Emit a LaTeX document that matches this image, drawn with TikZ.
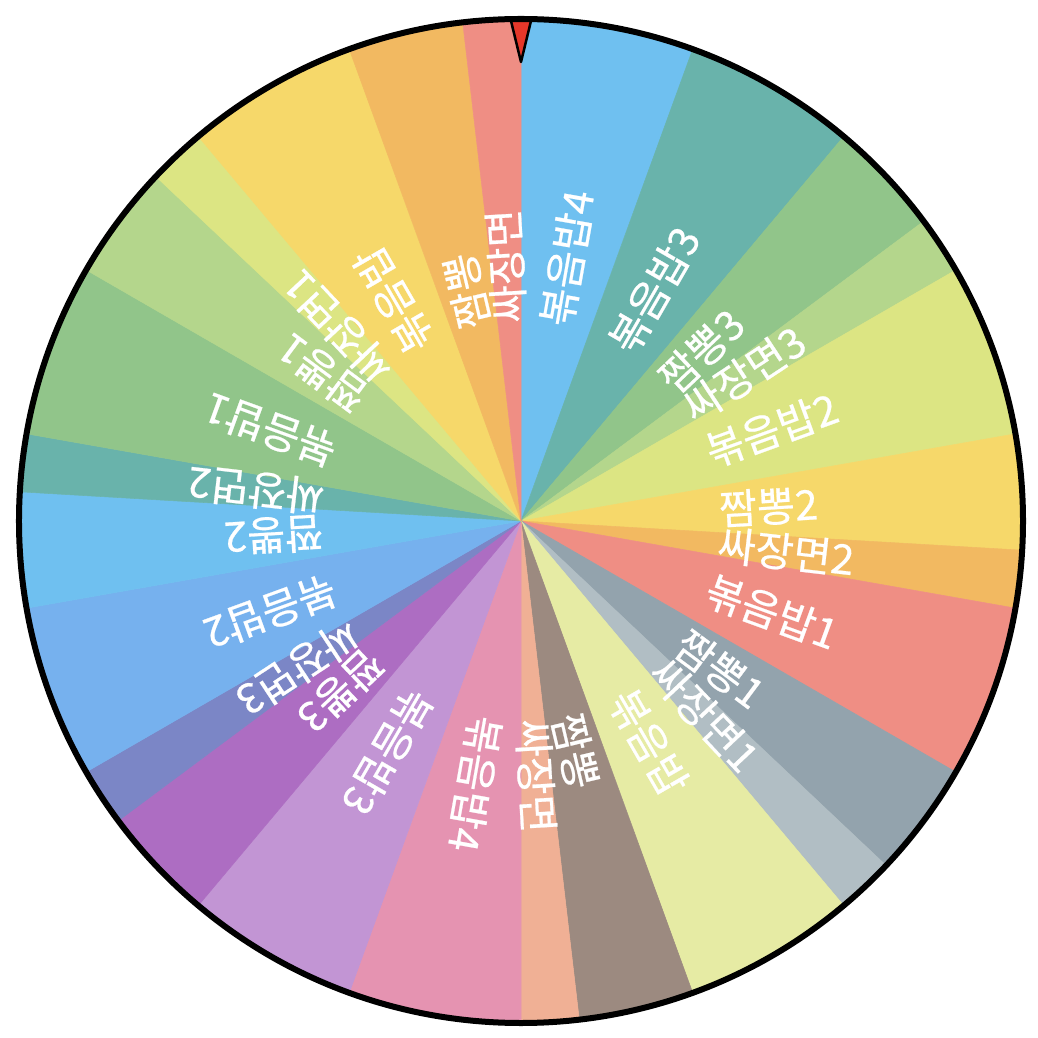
\documentclass[tikz,border=0pt]{standalone}
\usepackage{fontspec}
\usetikzlibrary{positioning}
\newfontfamily\kr[FakeBold=0.6]{Noto Sans CJK KR}
\definecolor{sky}{HTML}{6FC0F0}
\definecolor{sea}{HTML}{69B3AB}
\definecolor{leaf}{HTML}{91C58A}
\definecolor{sprout}{HTML}{B4D68C}
\definecolor{lemon}{HTML}{DCE583}
\definecolor{sun}{HTML}{F6D86A}
\definecolor{amber}{HTML}{F2B961}
\definecolor{coral}{HTML}{EF8E84}
\definecolor{slate}{HTML}{93A3AD}
\definecolor{mist}{HTML}{B1BEC4}
\definecolor{cream}{HTML}{E6EBA4}
\definecolor{cocoa}{HTML}{9C8A80}
\definecolor{peach}{HTML}{F0B095}
\definecolor{rose}{HTML}{E593B1}
\definecolor{lilac}{HTML}{C295D4}
\definecolor{plum}{HTML}{AD6DC2}
\definecolor{dusk}{HTML}{7B86C6}
\definecolor{azure}{HTML}{76B1EE}
\definecolor{needle}{HTML}{E5372A}
\tikzset{wedge/.style={line width=0.3pt},lbl/.style={anchor=west,inner sep=0pt,text=white,font=\kr\fontsize{23.5}{28}\selectfont},rim/.style={draw=black,line width=1.2mm},pin/.style={draw=black,fill=needle,line width=0.5mm,line join=round}}

\begin{document}
\begin{tikzpicture}[x=0.2mm,y=0.2mm]
\useasboundingbox (-521,-517) rectangle (517,521);
\foreach \s/\w/\c/\t [count=\i] in {0/3/sky/볶음밥4,3/3/sea/볶음밥3,6/2/leaf/짬뽕3,8/1/sprout/싸장면3,9/3/lemon/볶음밥2,12/2/sun/짬뽕2,14/1/amber/싸장면2,15/3/coral/볶음밥1,18/2/slate/짬뽕1,20/1/mist/싸장면1,21/3/cream/볶음밥,24/2/cocoa/짬뽕,26/1/peach/싸장면,27/3/rose/볶음밥4,30/3/lilac/볶음밥3,33/2/plum/짬뽕3,35/1/dusk/싸장면3,36/3/azure/볶음밥2,39/2/sky/짬뽕2,41/1/sea/싸장면2,42/3/leaf/볶음밥1,45/2/sprout/짬뽕1,47/1/lemon/싸장면1,48/3/sun/볶음밥,51/2/amber/짬뽕,53/1/coral/싸장면}{
  \filldraw[wedge,\c] (0,0) -- ({90-\s*20/3}:503) arc[start angle={90-\s*20/3},end angle={90-(\s+\w)*20/3},radius=503] -- cycle;
}
\foreach \s/\w/\t [count=\i] in {0/3/볶음밥4,3/3/볶음밥3,6/2/짬뽕3,8/1/싸장면3,9/3/볶음밥2,12/2/짬뽕2,14/1/싸장면2,15/3/볶음밥1,18/2/짬뽕1,20/1/싸장면1,21/3/볶음밥,24/2/짬뽕,26/1/싸장면,27/3/볶음밥4,30/3/볶음밥3,33/2/짬뽕3,35/1/싸장면3,36/3/볶음밥2,39/2/짬뽕2,41/1/싸장면2,42/3/볶음밥1,45/2/짬뽕1,47/1/싸장면1,48/3/볶음밥,51/2/짬뽕,53/1/싸장면}{
  \node[lbl,rotate={90-(\s+\w/2)*20/3}] (s\i) at ({90-(\s+\w/2)*20/3}:198) {\t};
}
\draw[rim] (0,0) circle[radius=502];
\draw[pin] (-10,500) -- (10,500) -- (0,459) -- cycle;
\end{tikzpicture}
\end{document}
